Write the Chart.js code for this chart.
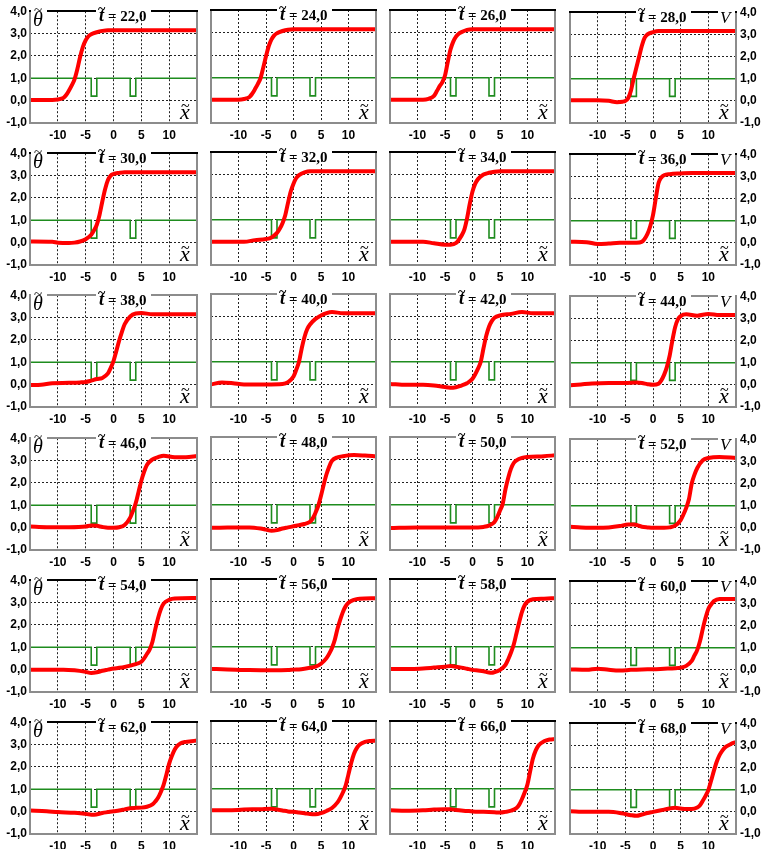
<!DOCTYPE html>
<html>
<head>
<meta charset="utf-8">
<script src="https://cdn.jsdelivr.net/npm/chart.js@4.4.0/dist/chart.umd.min.js"></script>
<style>
  body { margin: 0; background: #fff; width: 763px; height: 849px; position: relative; overflow: hidden; }
  canvas { position: absolute; }
</style>
</head>
<body>
<script>
// time of each panel, row by row
const times = [22, 24, 26, 28, 30, 32, 34, 36, 38, 40, 42, 44, 46, 48, 50, 52, 54, 56, 58, 60, 62, 64, 66, 68];

// potential V(x): two narrow wells
const potX = [-15, -4, -4, -3, -3, 3, 3, 4, 4, 15];
const potV = [1, 1, 0.2, 0.2, 1, 1, 0.2, 0.2, 1, 1];

const xTicks = [-10, -5, 0, 5, 10];
const yTicks = [-1, 0, 1, 2, 3, 4];

// theta(x), [x, theta]
const theta22 = [[-15,0.03],[-11,0.03],[-10,0.05],[-9,0.12],[-8.5,0.25],[-8,0.45],[-7.5,0.68],[-7,0.95],[-6.5,1.4],[-6,1.95],[-5.5,2.4],[-5,2.7],[-4.5,2.88],[-4,2.97],[-3,3.06],[-2,3.12],[-1,3.15],[15,3.15]];
const theta24 = [[-15,0.03],[-10,0.03],[-9,0.06],[-8,0.15],[-7.5,0.3],[-7,0.5],[-6.5,0.72],[-6,0.98],[-5.5,1.45],[-5,1.95],[-4.5,2.4],[-4,2.7],[-3.5,2.88],[-3,2.97],[-2,3.07],[-1,3.13],[0,3.15],[15,3.15]];
const theta26 = [[-15,0.03],[-9,0.03],[-8,0.07],[-7,0.2],[-6.5,0.4],[-6,0.62],[-5.5,0.8],[-5,1.1],[-4.5,1.7],[-4,2.25],[-3.5,2.6],[-3,2.82],[-2.5,2.95],[-2,3.02],[-1,3.12],[0,3.15],[15,3.15]];
const theta28 = [[-15,0.03],[-10,0.03],[-8,0.0],[-6.5,-0.06],[-5.5,-0.04],[-5,0.0],[-4.5,0.12],[-4,0.45],[-3.5,1.0],[-3,1.5],[-2.5,2.0],[-2,2.5],[-1.5,2.85],[-1,3.0],[0,3.1],[1,3.15],[15,3.15]];
const theta30 = [[-15,0.05],[-11,0.04],[-10,0.0],[-8,-0.02],[-7,0.0],[-6,0.05],[-5,0.15],[-4,0.35],[-3.5,0.55],[-3,0.8],[-2.5,1.25],[-2,1.85],[-1.5,2.4],[-1,2.8],[-0.5,3.0],[0,3.07],[1,3.12],[2,3.15],[15,3.15]];
const theta32 = [[-15,0.03],[-9,0.03],[-7,0.1],[-5,0.15],[-4,0.22],[-3,0.42],[-2.5,0.6],[-2,0.85],[-1.5,1.2],[-1,1.75],[-0.5,2.25],[0,2.6],[0.5,2.85],[1,2.98],[2,3.1],[3,3.15],[15,3.15]];
const theta34 = [[-15,0.03],[-9,0.03],[-7,-0.04],[-5,-0.1],[-4,-0.1],[-3,-0.03],[-2,0.3],[-1.5,0.55],[-1,1.05],[-0.5,1.7],[0,2.25],[0.5,2.6],[1,2.8],[2,3.0],[3,3.08],[4,3.13],[5,3.15],[15,3.15]];
const theta36 = [[-15,0.05],[-12,0.03],[-10,-0.05],[-8,-0.03],[-6,0.0],[-3,0.0],[-2,0.05],[-1,0.4],[-0.5,0.75],[0,1.25],[0.5,2.0],[1,2.7],[1.5,2.95],[2,3.05],[3,3.1],[5,3.13],[7,3.15],[15,3.15]];
const theta38 = [[-15,-0.02],[-13,0.0],[-11,0.06],[-8,0.08],[-6,0.1],[-5,0.12],[-4,0.18],[-3,0.25],[-2,0.3],[-1,0.5],[-0.5,0.75],[0,1.05],[0.5,1.5],[1,1.95],[1.5,2.35],[2,2.7],[3,3.05],[4,3.18],[5,3.2],[7,3.15],[15,3.15]];
const theta40 = [[-15,0.0],[-13,0.08],[-11,0.05],[-9,0.0],[-5,0.0],[-2,0.02],[-1,0.1],[0,0.35],[0.5,0.65],[1,1.0],[1.5,1.6],[2,2.1],[2.5,2.45],[3,2.65],[4,2.9],[5,3.05],[6,3.15],[7,3.2],[9,3.15],[15,3.15]];
const theta42 = [[-15,0.02],[-12,-0.02],[-9,-0.02],[-7,-0.05],[-5,-0.12],[-3.5,-0.15],[-2,-0.05],[-1,0.05],[0,0.25],[1,0.7],[1.5,1.0],[2,1.6],[2.5,2.15],[3,2.55],[3.5,2.8],[4,2.95],[5,3.05],[7,3.12],[9,3.2],[11,3.15],[15,3.15]];
const theta44 = [[-15,-0.02],[-13,0.02],[-11,0.06],[-8,0.08],[-5,0.08],[-3,0.1],[-2,0.08],[-1,0.03],[0,0.0],[1,0.05],[1.5,0.2],[2,0.45],[2.5,0.8],[3,1.3],[3.5,2.0],[4,2.6],[4.5,2.95],[5,3.1],[6,3.18],[8,3.12],[10,3.2],[12,3.15],[15,3.15]];
const theta46 = [[-15,0.05],[-12,0.02],[-8,0.02],[-5,0.05],[-4,0.1],[-3,0.08],[-2,0.03],[-1,0.0],[0,0.0],[1,0.02],[2,0.12],[3,0.45],[3.5,0.75],[4,1.1],[4.5,1.6],[5,2.1],[5.5,2.5],[6,2.8],[7,3.05],[8,3.15],[9,3.22],[11,3.15],[13,3.15],[15,3.2]];
const theta48 = [[-15,-0.02],[-12,0.0],[-8,0.0],[-6,-0.05],[-5,-0.1],[-4,-0.15],[-3,-0.12],[-2,-0.05],[-1,0.0],[0,0.05],[1,0.1],[2,0.15],[3,0.25],[3.5,0.4],[4,0.65],[4.5,0.95],[5,1.4],[5.5,1.9],[6,2.35],[6.5,2.7],[7,2.95],[8,3.1],[9,3.15],[11,3.2],[13,3.18],[15,3.15]];
const theta50 = [[-15,-0.03],[-10,0.0],[0,0.0],[1,0.0],[2,0.02],[3,0.08],[4,0.24],[4.5,0.45],[5,0.75],[5.5,1.05],[6,1.7],[6.5,2.2],[7,2.6],[7.5,2.85],[8,2.97],[9,3.08],[10,3.12],[13,3.15],[15,3.19]];
const theta52 = [[-15,0.05],[-13,0.02],[-10,0.0],[-8,0.02],[-6,0.08],[-4.5,0.15],[-3.5,0.15],[-2,0.05],[-1,0.02],[0,0.0],[2,0.0],[3,0.02],[4,0.1],[5,0.35],[5.5,0.6],[6,0.9],[6.5,1.3],[7,2.0],[7.5,2.4],[8,2.7],[9,3.05],[10,3.15],[12,3.2],[15,3.15]];
const theta54 = [[-15,0.0],[-9,0.0],[-7,-0.03],[-5,-0.1],[-4,-0.15],[-3,-0.12],[-2,-0.05],[-1,0.0],[0,0.05],[1,0.08],[2,0.12],[3,0.18],[4,0.25],[5,0.35],[5.5,0.5],[6,0.7],[6.5,0.9],[7,1.25],[7.5,1.8],[8,2.3],[8.5,2.7],[9,2.95],[10,3.12],[11,3.18],[15,3.2]];
const theta56 = [[-15,0.02],[-12,0.0],[-8,-0.03],[-4,-0.04],[-1,-0.03],[0,-0.01],[1,0.0],[2,0.03],[3,0.07],[4,0.12],[5,0.25],[6,0.5],[6.5,0.7],[7,0.95],[7.5,1.3],[8,1.8],[8.5,2.2],[9,2.55],[9.5,2.8],[10,2.95],[11,3.08],[12,3.13],[15,3.15]];
const theta58 = [[-15,0.02],[-11,0.02],[-9,0.04],[-7,0.08],[-5,0.12],[-4,0.15],[-3,0.12],[-2,0.08],[-1,0.03],[0,-0.02],[1,-0.05],[2,-0.08],[3,-0.14],[3.5,-0.15],[4,-0.12],[5,-0.02],[6,0.2],[6.5,0.45],[7,0.75],[7.5,1.1],[8,1.6],[8.5,2.1],[9,2.55],[9.5,2.85],[10,3.0],[11,3.1],[13,3.13],[15,3.15]];
const theta60 = [[-15,0.02],[-12,0.0],[-10,0.05],[-8,0.0],[-6,-0.03],[-4,0.0],[-2,0.02],[0,0.03],[2,0.05],[4,0.07],[5,0.1],[6,0.18],[7,0.4],[7.5,0.65],[8,0.9],[8.5,1.3],[9,1.85],[9.5,2.35],[10,2.75],[10.5,2.95],[11,3.1],[12,3.2],[15,3.2]];
const theta62 = [[-15,0.05],[-12,0.02],[-10,-0.02],[-7,-0.05],[-5,-0.1],[-3.5,-0.14],[-2,-0.06],[-1,-0.02],[0,0.02],[1,0.05],[2,0.1],[3,0.15],[4,0.17],[5,0.18],[6,0.22],[7,0.32],[7.5,0.45],[8,0.62],[8.5,0.88],[9,1.2],[9.5,1.65],[10,2.15],[10.5,2.5],[11,2.78],[11.5,2.95],[12,3.05],[13,3.12],[14,3.15],[15,3.18]];
const theta64 = [[-15,0.05],[-12,0.05],[-9,0.08],[-6,0.1],[-4,0.12],[-3,0.08],[-2,0.04],[-1,0.0],[0,-0.02],[1,-0.05],[2,-0.08],[3,-0.12],[4,-0.13],[5,-0.08],[6,0.02],[7,0.15],[8,0.4],[8.5,0.6],[9,0.85],[9.5,1.15],[10,1.65],[10.5,2.15],[11,2.55],[11.5,2.8],[12,2.95],[13,3.08],[14,3.12],[15,3.13]];
const theta66 = [[-15,0.05],[-12,0.03],[-9,0.05],[-7,0.08],[-5,0.1],[-4,0.1],[-3,0.06],[-1,0.02],[0,0.0],[2,-0.02],[4,-0.04],[5,-0.05],[6,-0.02],[7,0.03],[8,0.15],[8.5,0.3],[9,0.55],[9.5,0.85],[10,1.2],[10.5,1.8],[11,2.35],[11.5,2.7],[12,2.92],[13,3.1],[14,3.18],[15,3.2]];
const theta68 = [[-15,0.03],[-12,0.0],[-8,0.0],[-6,-0.05],[-5,-0.1],[-4,-0.15],[-3,-0.18],[-2,-0.12],[-1,-0.05],[0,0.0],[1,0.05],[2,0.1],[3,0.15],[4,0.18],[5,0.15],[6,0.13],[7,0.13],[8,0.2],[8.5,0.3],[9,0.5],[9.5,0.72],[10,0.98],[10.5,1.4],[11,1.85],[11.5,2.25],[12,2.55],[12.5,2.75],[13,2.9],[14,3.05],[15,3.15]];

const thetas = [theta22, theta24, theta26, theta28, theta30, theta32, theta34, theta36,
  theta38, theta40, theta42, theta44, theta46, theta48, theta50, theta52,
  theta54, theta56, theta58, theta60, theta62, theta64, theta66, theta68];

// ── layout of the 6x4 grid ──
const plotLeft = [30, 208, 387, 567];
const plotW = [170, 171, 171, 169];
const plotH = 113;
const padTop = 9;
const xAxisH = 20;
const leftAxisW = 30;
const rightAxisW = 27;

const fmtY = v => v.toFixed(1).replace('.', ',');

// frame, title and the axis symbols drawn on top of each panel
const decor = {
  id: 'decor',
  afterDraw(chart, args, o) {
    const { ctx, chartArea: a } = chart;
    const L = Math.round(a.left), T = Math.round(a.top), R = Math.round(a.right), B = Math.round(a.bottom);
    ctx.save();
    ctx.setLineDash([]);
    ctx.fillStyle = '#8c8c8c';
    ctx.fillRect(L - 1, T - 1, 2, B - T + 2);
    ctx.fillRect(R - 1, T - 1, 2, B - T + 2);
    ctx.fillRect(L - 1, B - 1, R - L + 2, 2);
    ctx.fillStyle = o.topColor;
    ctx.fillRect(L - 1, T - 1, R - L + 2, 2);

    ctx.fillStyle = '#fff';
    const tx = L + 69;
    ctx.fillRect(tx - 3, T - 3, 55, 6);
    if (o.col === 0) ctx.fillRect(L + 1, T - 3, 16, 6);
    if (o.col === 3) ctx.fillRect(R - 18, T - 3, 17, 6);

    ctx.fillStyle = '#000';
    ctx.textBaseline = 'alphabetic';
    ctx.textAlign = 'left';
    // t~ = 22,0
    ctx.font = 'italic bold 18px "Liberation Serif"';
    ctx.fillText('t', tx, T + 10);
    ctx.font = 'bold 14px "Liberation Serif"';
    ctx.fillText('~', tx - 1, T + 3);
    ctx.font = 'bold 15px "Liberation Serif"';
    ctx.fillText('= ' + o.label, tx + 9, T + 10);

    if (o.col === 0) {
      ctx.font = 'italic 20px "Liberation Serif"';
      ctx.fillText('θ', L + 3, T + 15);
      ctx.font = '15px "Liberation Serif"';
      ctx.fillText('~', L + 4, T + 4);
    }
    if (o.col === 3) {
      ctx.font = 'italic 17px "Liberation Serif"';
      ctx.fillText('V', R - 16, T + 11);
    }
    // x~ in the lower right corner
    ctx.font = 'italic 22px "Liberation Serif"';
    ctx.fillText('x', R - 17, B - 4);
    ctx.font = '16px "Liberation Serif"';
    ctx.fillText('~', R - 16, B - 12);
    ctx.restore();
  }
};

Chart.defaults.font.family = '"Liberation Sans", Arial, sans-serif';
Chart.defaults.font.size = 12;
Chart.defaults.font.weight = 'bold';
Chart.defaults.color = '#000';

function gridColor(edge) {
  return ctx => (ctx.tick && Math.abs(ctx.tick.value) === edge) ? 'rgba(0,0,0,0)' : '#222';
}

times.forEach((t, i) => {
  const row = Math.floor(i / 4);
  const col = i % 4;
  const rowTop = Math.round(10 + 142.2 * row);
  const lw = col === 0 ? leftAxisW : 0;
  const rw = col === 3 ? rightAxisW : 0;
  const padL = col === 0 ? 0 : 2;
  const padR = col === 3 ? 0 : 2;

  const cv = document.createElement('canvas');
  cv.width = padL + lw + plotW[col] + rw + padR;
  cv.height = padTop + plotH + xAxisH;
  cv.style.left = (plotLeft[col] - lw - padL) + 'px';
  cv.style.top = (rowTop - padTop) + 'px';
  document.body.appendChild(cv);

  const pos = col === 3 ? 'right' : 'left';
  const scales = {
    x: {
      type: 'linear', min: -15, max: 15,
      afterBuildTicks: s => { s.ticks = [-15].concat(xTicks, [15]).map(v => ({ value: v })); },
      afterFit: s => { s.height = xAxisH; },
      grid: { color: gridColor(15), lineWidth: 1, drawTicks: false },
      border: { display: false, dash: [2, 2] },
      ticks: { padding: 5, maxRotation: 0, autoSkip: false,
        callback: v => Math.abs(v) === 15 ? '' : String(v) }
    },
    y: {
      type: 'linear', position: pos, min: -1, max: 4,
      afterBuildTicks: s => { s.ticks = yTicks.map(v => ({ value: v })); },
      afterFit: s => { s.width = lw + rw; },
      grid: { color: gridColor(4), lineWidth: 1, drawTicks: false },
      border: { display: false, dash: [2, 2] },
      ticks: { display: col === 0 || col === 3, padding: pos === 'left' ? 3 : 4, callback: fmtY }
    }
  };

  new Chart(cv, {
    type: 'line',
    data: {
      datasets: [
        {
          data: thetas[i].map(p => ({ x: p[0], y: p[1] })),
          borderColor: '#ff0000', borderWidth: 4,
          pointRadius: 0, cubicInterpolationMode: 'monotone', order: 0
        },
        {
          data: potX.map((x, k) => ({ x, y: potV[k] })),
          borderColor: '#1e8c1e', borderWidth: 1.6,
          pointRadius: 0, tension: 0, order: 1
        }
      ]
    },
    options: {
      responsive: false,
      animation: false,
      devicePixelRatio: 1,
      layout: { padding: { left: padL, right: padR, top: padTop, bottom: 0 } },
      plugins: {
        legend: { display: false },
        tooltip: { enabled: false },
        decor: { col, label: t.toFixed(1).replace('.', ','), topColor: (row === 2 || row === 3) ? '#8c8c8c' : '#000' }
      },
      scales
    },
    plugins: [decor]
  });
});
</script>
</body>
</html>
